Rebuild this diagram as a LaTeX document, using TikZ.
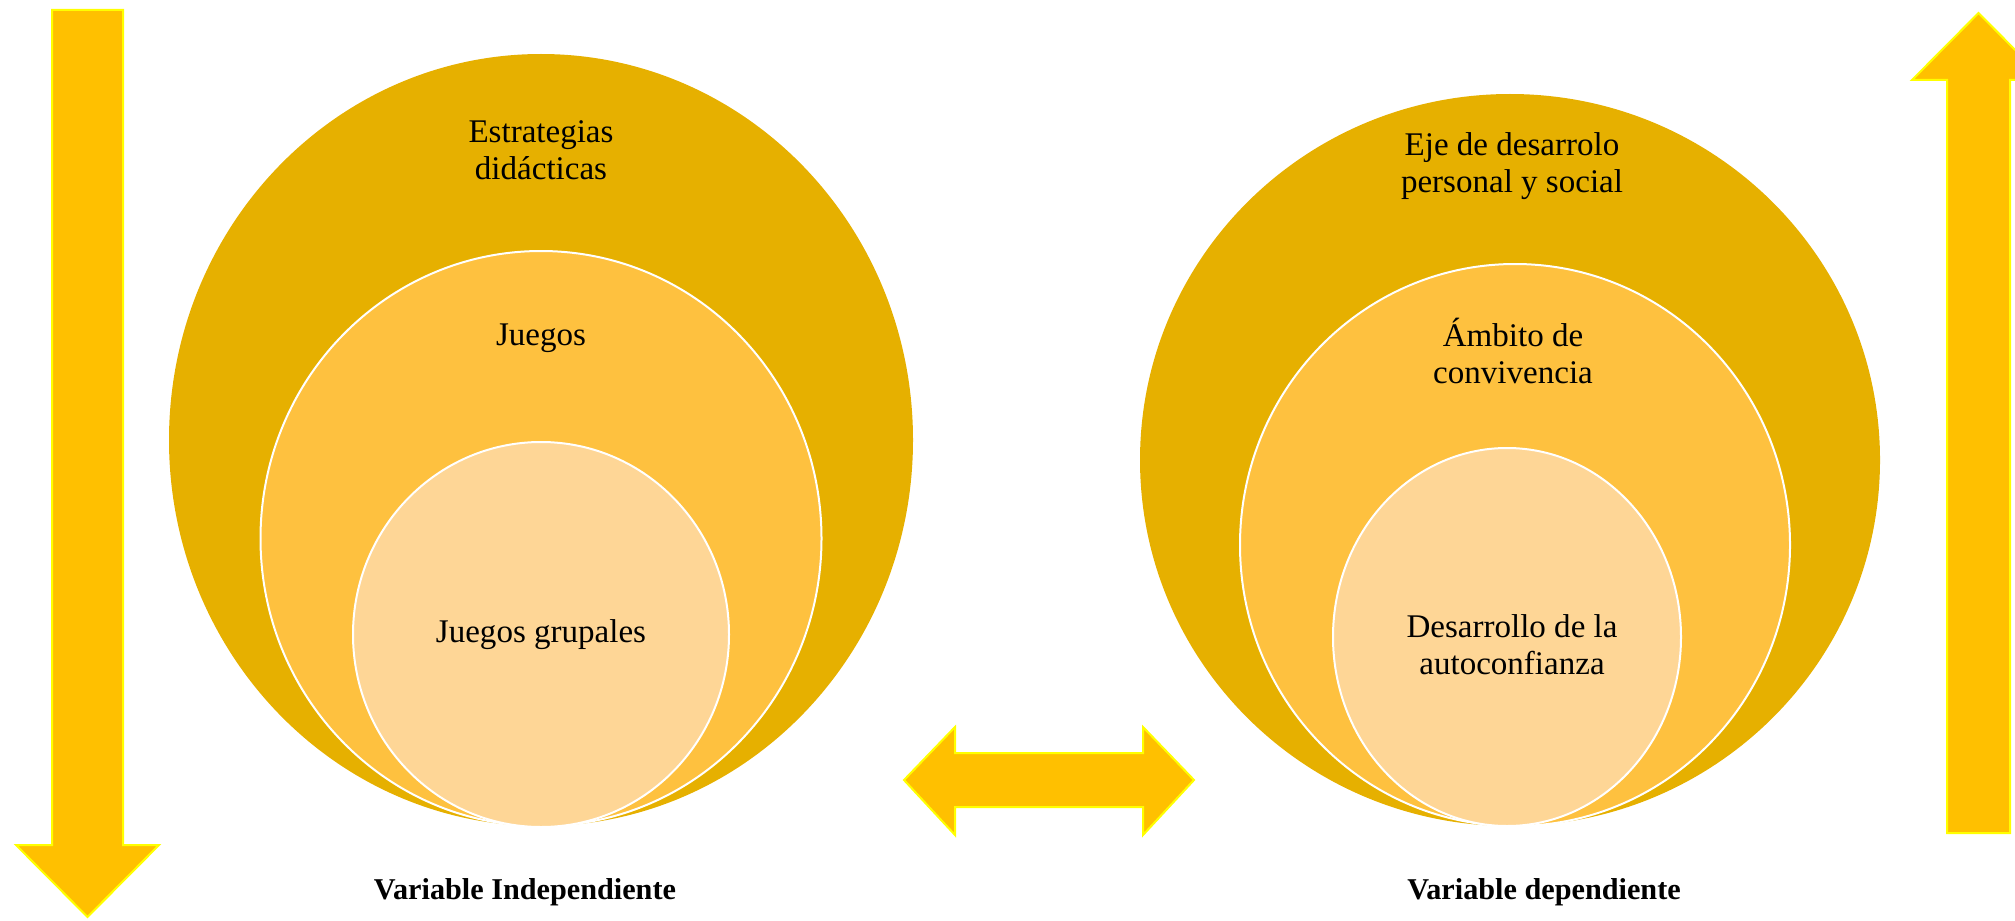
\documentclass[tikz,border=0pt]{standalone}
\usepackage{fontspec}
\setmainfont{Liberation Serif}
\usepackage{tikz}
\usetikzlibrary{calc}
\definecolor{anillo1}{HTML}{E6B000}
\definecolor{anillo2}{HTML}{FEC13F}
\definecolor{anillo3}{HTML}{FED696}
\definecolor{flecha}{HTML}{FFC000}
\definecolor{borde}{HTML}{FFFF00}

\begin{document}
\begin{tikzpicture}[
  anillo/.style={draw=white,line width=0.02cm},
  flechas/.style={fill=flecha,draw=borde,line width=0.02cm,line join=miter},
  texto/.style={align=center,font=\fontsize{9.4}{10.6}\selectfont,inner sep=0pt},
  rotulo/.style={font=\fontsize{8.6}{10}\selectfont\bfseries,inner sep=0pt}]
\useasboundingbox (0,0) rectangle (20.15,9.2);
% variable independiente
\fill[anillo1] (5.41,4.80) ellipse [x radius=3.72,y radius=3.86];
\filldraw[anillo,fill=anillo2] (5.41,3.815) ellipse [x radius=2.805,y radius=2.875];
\filldraw[anillo,fill=anillo3] (5.41,2.855) ellipse [x radius=1.88,y radius=1.925];
\node[texto] (estr) at (5.41,7.70) {Estrategias\\did\'acticas};
\node[texto] (jueg) at (5.41,5.82) {Juegos};
\node[texto] (grup) at (5.41,2.85) {Juegos grupales};
% variable dependiente
\fill[anillo1] (15.10,4.60) ellipse [x radius=3.70,y radius=3.66];
\filldraw[anillo,fill=anillo2] (15.15,3.75) ellipse [x radius=2.75,y radius=2.81];
\filldraw[anillo,fill=anillo3] (15.07,2.83) ellipse [x radius=1.74,y radius=1.89];
\node[texto] (eje) at (15.12,7.54) {Eje de desarrolo\\personal y social};
\node[texto] (ambi) at (15.13,5.69) {Ámbito de\\convivencia};
\node[texto] (auto) at (15.12,2.75) {Desarrollo de la\\autoconfianza};
% flechas
\filldraw[flechas] (0.52,9.10) -- (1.23,9.10) -- (1.23,0.75) -- (1.59,0.75)
  -- (0.875,0.03) -- (0.16,0.75) -- (0.52,0.75) -- cycle;
\filldraw[flechas] (19.47,0.87) -- (20.10,0.87) -- (20.10,8.40) -- (20.45,8.40)
  -- (19.785,9.07) -- (19.12,8.40) -- (19.47,8.40) -- cycle;
\filldraw[flechas] (9.04,1.40) -- (9.55,1.93) -- (9.55,1.67) -- (11.43,1.67)
  -- (11.43,1.93) -- (11.94,1.40) -- (11.43,0.85) -- (11.43,1.13)
  -- (9.55,1.13) -- (9.55,0.85) -- cycle;
% rotulos
\node[rotulo] (vi) at (5.25,0.28) {Variable Independiente};
\node[rotulo] (vd) at (15.44,0.28) {Variable dependiente};
\end{tikzpicture}
\end{document}
